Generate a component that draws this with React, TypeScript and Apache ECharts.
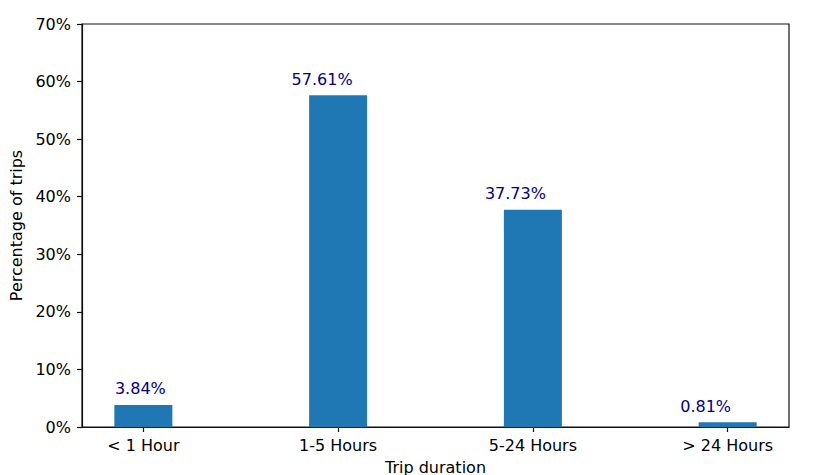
import React, { useEffect, useRef } from "react";
import * as echarts from "echarts";

const categories = ["< 1 Hour", "1-5 Hours", "5-24 Hours", "> 24 Hours"];
const percentages = [3.84, 57.61, 37.73, 0.81];
const yTicks = [0, 10, 20, 30, 40, 50, 60, 70];

const FONT = "DejaVu Sans";
const labelShift = [-3, -16, -17.5, -22];

export default function App() {
  const ref = useRef<HTMLDivElement>(null);
  useEffect(() => {
    if (!ref.current) return;
    const chart = echarts.init(ref.current, undefined, { renderer: "svg" });
    const positions = categories.map((_, i) => i);
    chart.setOption({
      animation: false,
      backgroundColor: "#ffffff",
      textStyle: { fontFamily: FONT },
      grid: {
        left: 82,
        right: 41,
        top: 24,
        bottom: 48,
        containLabel: false,
        outerBoundsMode: "none",
        show: true,
        borderColor: "#111",
        borderWidth: 1.2,
        backgroundColor: "transparent",
      },
      xAxis: {
        type: "value",
        min: -0.315,
        max: 3.315,
        name: "Trip duration",
        nameLocation: "middle",
        nameGap: 32,
        nameTextStyle: { fontSize: 16, color: "#000", fontFamily: FONT },
        axisLine: { show: true, onZero: false, lineStyle: { color: "#111", width: 1.2 } },
        axisTick: {
          show: true,
          length: 5,
          inside: false,
          customValues: positions,
          lineStyle: { color: "#111", width: 1.2 },
        },
        axisLabel: {
          customValues: positions,
          margin: 10,
          fontSize: 16,
          color: "#000",
          fontFamily: FONT,
          formatter: (v: number) => categories[Math.round(v)] ?? "",
        },
        splitLine: { show: false },
      },
      yAxis: {
        type: "value",
        min: yTicks[0],
        max: yTicks[yTicks.length - 1],
        interval: 10,
        name: "Percentage of trips",
        nameLocation: "middle",
        nameGap: 50,
        nameTextStyle: { fontSize: 16, color: "#000", fontFamily: FONT },
        axisLine: { show: true, onZero: false, lineStyle: { color: "#111", width: 1.2 } },
        axisTick: { show: true, length: 5, inside: false, lineStyle: { color: "#111", width: 1.2 } },
        axisLabel: {
          margin: 11,
          fontSize: 16,
          color: "#000",
          fontFamily: FONT,
          formatter: "{value}%",
        },
        splitLine: { show: false },
      },
      series: [
        {
          type: "bar",
          barWidth: 58,
          itemStyle: { color: "#1f77b4" },
          label: {
            show: true,
            position: "top",
            distance: 8,
            fontSize: 16,
            color: "#00008b",
            fontFamily: FONT,
            formatter: (p: any) => `${p.value[1].toFixed(2)}%`,
          },
          data: percentages.map((v, i) => ({
            value: [i, v],
            label: { offset: [labelShift[i], 0] },
          })),
        },
      ],
    });
    return () => chart.dispose();
  }, []);
  return (
    <div
      ref={ref}
      style={{ position: "fixed", left: 0, top: 0, width: 830, height: 475 }}
    />
  );
}
